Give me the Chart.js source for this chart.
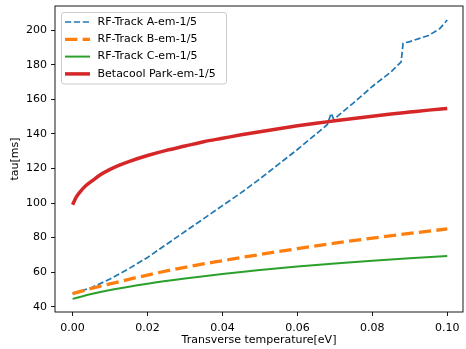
<!DOCTYPE html>
<html>
<head>
<meta charset="utf-8">
<script src="https://cdn.jsdelivr.net/npm/chart.js@4"></script>
<style>html,body{margin:0;padding:0;background:#fff}</style>
</head>
<body>
<canvas id="c" width="466" height="349"></canvas>
<script>
// values
const labels = ['RF-Track A-em-1/5', 'RF-Track B-em-1/5', 'RF-Track C-em-1/5', 'Betacool Park-em-1/5'];

const xA = [0, 0.005, 0.01, 0.015, 0.02, 0.025, 0.03, 0.035, 0.04, 0.045, 0.05, 0.055, 0.06, 0.065, 0.068, 0.069, 0.0697, 0.075, 0.08, 0.085, 0.0877, 0.0882, 0.09, 0.095, 0.098, 0.1];
const yA = [47.5, 51, 56, 62, 68.5, 76, 83.5, 91, 98.5, 106, 114, 122.5, 131, 140, 145.5, 152, 148.5, 158, 167.5, 176, 181.8, 192.5, 193.5, 197, 201, 206];

const xBC = [0, 0.005, 0.01, 0.02, 0.03, 0.04, 0.05, 0.06, 0.07, 0.08, 0.09, 0.1];
const yB = [47.5, 50.5, 53.2, 58.3, 62.8, 66.6, 70.2, 73.6, 76.8, 79.7, 82.4, 85];
const yC = [44.5, 47.3, 49.6, 53.3, 56.3, 58.9, 61.2, 63.2, 65, 66.6, 68, 69.3];

const xD = [0, 0.001, 0.002, 0.0035, 0.005, 0.0075, 0.01, 0.0125, 0.015, 0.02, 0.025, 0.03, 0.035, 0.04, 0.045, 0.05, 0.055, 0.06, 0.065, 0.07, 0.075, 0.08, 0.085, 0.09, 0.095, 0.1];
const yD = [99, 103.5, 106.5, 110, 112.5, 116.5, 119.5, 122, 124, 127.5, 130.5, 133, 135.5, 137.5, 139.5, 141.3, 143, 144.7, 146.2, 147.6, 149, 150.3, 151.6, 152.7, 153.8, 154.8];

const xTicks = [0, 0.02, 0.04, 0.06, 0.08, 0.1];
const yTicks = [40, 60, 80, 100, 120, 140, 160, 180, 200];

const pts = (xs, ys) => xs.map((x, i) => ({x: x, y: ys[i]}));

Chart.defaults.font.family = 'DejaVu Sans';
Chart.defaults.font.size = 11;
Chart.defaults.color = '#000';

// matplotlib-like frame + legend inside the axes
const frame = {
  id: 'frame',
  afterDatasetsDraw(chart){
    const {ctx, chartArea: a} = chart;
    ctx.save();
    ctx.strokeStyle = '#000'; ctx.lineWidth = 0.9;
    ctx.strokeRect(a.left, a.top, a.right - a.left, a.bottom - a.top);

    // legend
    const bx = 61.5, by = 12.5, bw = 165, bh = 71.5, r = 2.5;
    ctx.beginPath();
    ctx.moveTo(bx + r, by); ctx.arcTo(bx + bw, by, bx + bw, by + bh, r);
    ctx.arcTo(bx + bw, by + bh, bx, by + bh, r); ctx.arcTo(bx, by + bh, bx, by, r);
    ctx.arcTo(bx, by, bx + bw, by, r); ctx.closePath();
    ctx.fillStyle = 'rgba(255,255,255,0.8)'; ctx.fill();
    ctx.strokeStyle = '#cccccc'; ctx.lineWidth = 1; ctx.stroke();
    chart.data.datasets.forEach((ds, i) => {
      const y = 22 + i * 17.3;
      ctx.beginPath();
      ctx.setLineDash(ds.borderDash || []);
      ctx.strokeStyle = ds.borderColor; ctx.lineWidth = ds.borderWidth;
      ctx.moveTo(65, y); ctx.lineTo(90, y); ctx.stroke();
      ctx.setLineDash([]);
      ctx.fillStyle = '#000'; ctx.font = '11px "DejaVu Sans"';
      ctx.textBaseline = 'middle'; ctx.textAlign = 'left';
      ctx.fillText(ds.label, 97.5, y);
    });
    ctx.restore();
  }
};

new Chart(document.getElementById('c'), {
  type: 'line',
  data: {
    datasets: [
      {label: labels[0], data: pts(xA, yA), borderColor: '#1f77b4', borderWidth: 1.7, borderDash: [6.2, 2.7], tension: 0, order: 4},
      {label: labels[1], data: pts(xBC, yB), borderColor: '#ff7f0e', borderWidth: 3.3, borderDash: [12.3, 5.3], cubicInterpolationMode: 'monotone', order: 3},
      {label: labels[2], data: pts(xBC, yC), borderColor: '#2ca02c', borderWidth: 2, cubicInterpolationMode: 'monotone', order: 2},
      {label: labels[3], data: pts(xD, yD), borderColor: '#d62728', borderWidth: 3.5, cubicInterpolationMode: 'monotone', order: 1}
    ]
  },
  options: {
    responsive: false,
    animation: false,
    layout: {padding: {top: 6, right: 3, left: 0, bottom: 0}},
    elements: {point: {radius: 0}},
    plugins: {legend: {display: false}, tooltip: {enabled: false}},
    scales: {
      x: {
        type: 'linear', min: -0.0047, max: 0.1042,
        afterBuildTicks: s => { s.ticks = xTicks.map(v => ({value: v})); },
        afterFit: s => { s.height = 37; s.paddingLeft = 0; s.paddingRight = 0; },
        ticks: {padding: 5.5, callback: v => v.toFixed(2), maxRotation: 0},
        grid: {drawOnChartArea: false, tickLength: 4, tickColor: '#000', tickWidth: 0.9},
        border: {display: false},
        title: {display: true, text: 'Transverse temperature[eV]', padding: {top: 0, bottom: 2}}
      },
      y: {
        type: 'linear', min: 36.9, max: 214.1,
        afterBuildTicks: s => { s.ticks = yTicks.map(v => ({value: v})); },
        afterFit: s => { s.width = 55; s.paddingTop = 0; s.paddingBottom = 0; },
        ticks: {padding: 4},
        grid: {drawOnChartArea: false, tickLength: 4, tickColor: '#000', tickWidth: 0.9},
        border: {display: false},
        title: {display: true, text: 'tau[ms]', padding: {top: 9, bottom: 0}}
      }
    }
  },
  plugins: [frame]
});
</script>
</body>
</html>
